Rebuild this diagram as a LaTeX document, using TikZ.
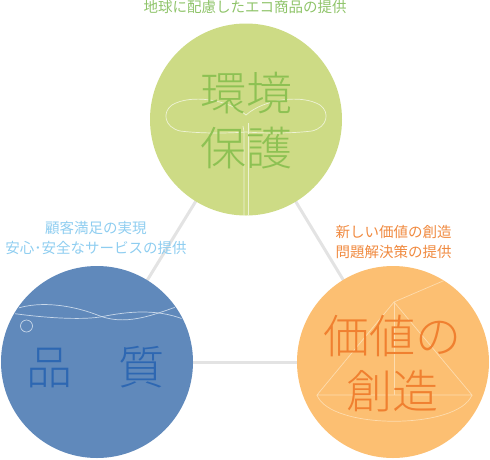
\documentclass[tikz,border=0pt]{standalone}
\usepackage{fontspec}
\setmainfont{Noto Sans CJK JP}
\IfFontExistsTF{Noto Sans CJK JP Light}{\newfontfamily\bigfont{Noto Sans CJK JP Light}}{\newfontfamily\bigfont{Noto Sans CJK JP}}
\usetikzlibrary{backgrounds}
\definecolor{greenC}{HTML}{CDDB85}
\definecolor{greenT}{HTML}{8DC153}
\definecolor{greenL}{HTML}{8FC46A}
\definecolor{greenW}{HTML}{EEF3D5}
\definecolor{blueC}{HTML}{6089BB}
\definecolor{blueT}{HTML}{2D67B2}
\definecolor{blueL}{HTML}{8ECDF0}
\definecolor{blueW}{HTML}{C8D8EA}
\definecolor{orangeC}{HTML}{FCBF72}
\definecolor{orangeT}{HTML}{F08030}
\definecolor{orangeL}{HTML}{F08A40}
\definecolor{orangeW}{HTML}{FDDCAE}
\definecolor{connC}{HTML}{E3E3E3}
\begin{document}
\begin{tikzpicture}[x=1pt,y=-1pt,
  circ/.style={circle,minimum size=192pt,inner sep=0pt,draw=none},
  conn/.style={draw=connC,line width=3pt},
  bigtext/.style={align=center,inner sep=0pt,font=\bigfont\fontsize{46}{55}\selectfont},
  label/.style={align=center,inner sep=0pt,font=\fontsize{14.5}{20}\selectfont},
  deco/.style={line width=0.7pt}]
\useasboundingbox (0,0) rectangle (490,459);
\node[circ,fill=greenC] (env) at (246,119.5) {};
\node[circ,fill=blueC] (qual) at (97,362) {};
\node[circ,fill=orangeC] (val) at (393,362) {};
\begin{scope}[on background layer]
\draw[conn] (env.center) -- (qual.center);
\draw[conn] (env.center) -- (val.center);
\draw[conn] (qual.center) -- (val.center);
\end{scope}
% green leaf and stem
\begin{scope}
\clip (env.center) circle[radius=96pt];
\draw[deco,draw=greenW] (246,115) .. controls (228,99) and (190,94) .. (172,105)
  .. controls (162,112) and (164,127) .. (180,131) .. controls (205,134) and (232,133) .. (246,132);
\draw[deco,draw=greenW] (246,115) .. controls (264,99) and (302,94) .. (320,105)
  .. controls (330,112) and (328,127) .. (312,131) .. controls (287,134) and (260,133) .. (246,132);
\draw[deco,draw=greenW] (243,126) .. controls (244,130) .. (244,140) -- (244,220);
\draw[deco,draw=greenW] (248,123) -- (248,220);
\end{scope}
% blue waves
\begin{scope}
\clip (qual.center) circle[radius=95pt];
\draw[deco,draw=blueW] (10,311) .. controls (35,300) and (70,304) .. (100,316)
  .. controls (130,327) and (160,312) .. (190,302);
\draw[deco,draw=blueW] (10,313) .. controls (45,318) and (80,320) .. (100,317)
  .. controls (130,311) and (160,308) .. (190,322);
\end{scope}
\draw[deco,draw=blueW] (26.5,326) circle[radius=6pt];
% orange cone
\begin{scope}
\clip (val.center) circle[radius=96pt];
\draw[deco,draw=orangeW] (317,395) -- (394,302) -- (472,395) -- cycle;
\draw[deco,draw=orangeW] (317,395) .. controls (330,430) and (458,430) .. (472,395);
\draw[deco,draw=orangeW] (394,302) -- (394,395);
\draw[deco,draw=orangeW] (394,302) -- (450,278);
\end{scope}
% texts
\node[bigtext,text=greenT] (envtext) at (246,120.5) {環境\\保護};
\node[bigtext,text=blueT] (qualtext) at (96,367) {品　質};
\node[bigtext,text=orangeT] (valtext) at (392.5,364) {価値の\\創造};
\node[label,text=greenL] (envlabel) at (245,7) {地球に配慮したエコ商品の提供};
\node[label,text=blueL] (quallabel) at (96,238) {顧客満足の実現\\安心･安全なサービスの提供};
\node[label,text=orangeL] (vallabel) at (393.5,242) {新しい価値の創造\\問題解決策の提供};
\end{tikzpicture}
\end{document}
